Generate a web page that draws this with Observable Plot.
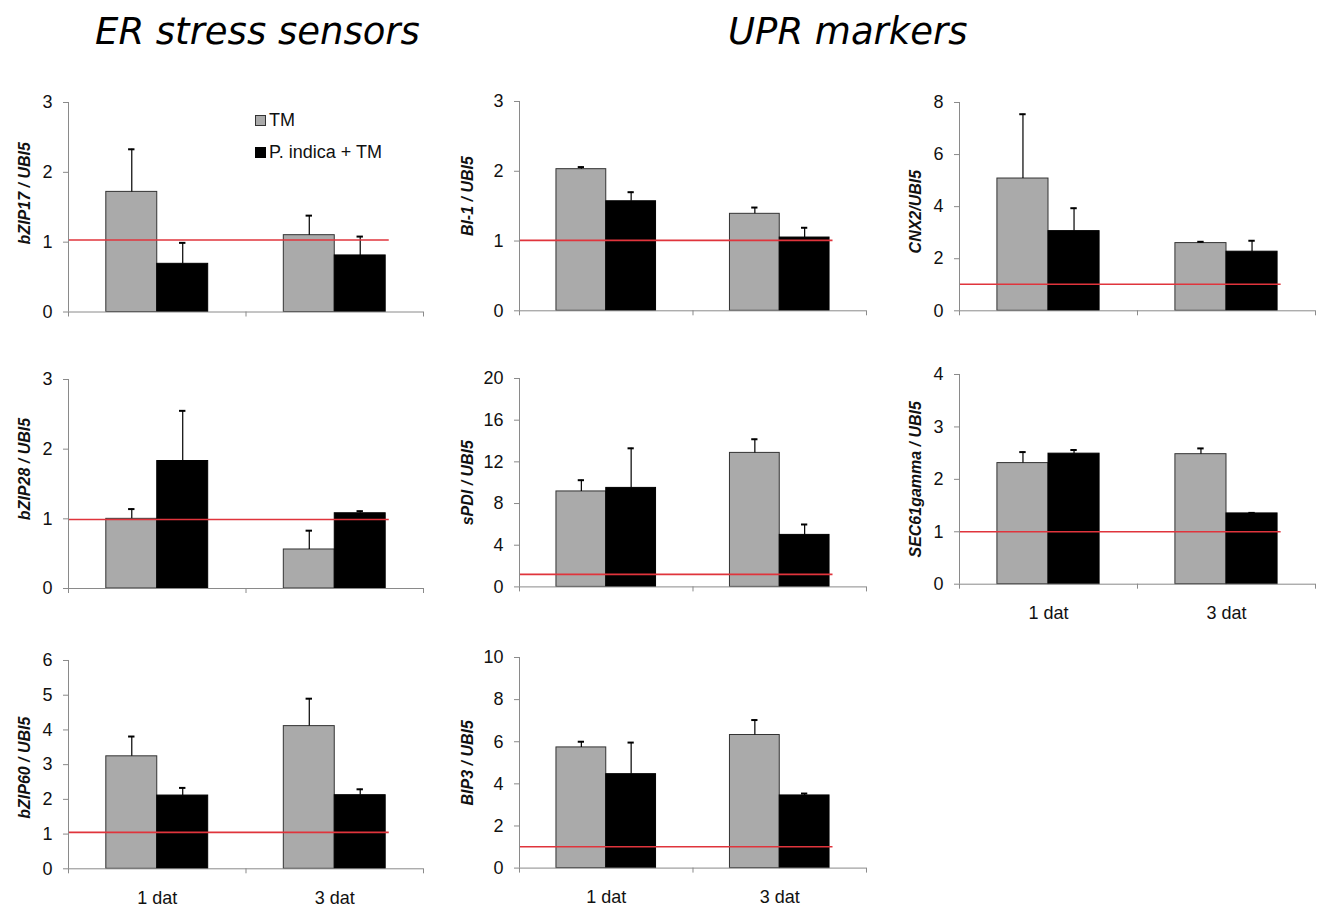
<!DOCTYPE html>
<html><head><meta charset="utf-8">
<script src="https://cdn.jsdelivr.net/npm/d3@7"></script>
<script src="https://cdn.jsdelivr.net/npm/@observablehq/plot@0.6"></script>
<style>
body{margin:0;background:#fff;}
#root{position:relative;width:1326px;height:909px;overflow:hidden;background:#fff;}
.title{position:absolute;font-family:"DejaVu Sans";font-style:italic;font-size:37px;line-height:37px;color:#000;white-space:nowrap;}
.panel{position:absolute;}
.legend{position:absolute;font-family:"Liberation Sans",Arial,sans-serif;font-size:18px;color:#111;}
.legend .row{display:flex;align-items:center;height:20px;margin-bottom:12px;white-space:nowrap;}
.legend .sw{width:11px;height:11px;box-sizing:border-box;margin-right:3px;}
</style></head>
<body><div id="root"></div>
<script>
// ---- data ----
const days = ["1 dat", "3 dat"];
const series = ["TM", "P. indica + TM"];
const genes = ["bZIP17", "BI-1", "CNX2", "bZIP28", "sPDI", "SEC61gamma", "bZIP60", "BIP3"];
const yLabels = ["bZIP17 / UBI5", "BI-1 / UBI5", "CNX2/UBI5", "bZIP28 / UBI5", "sPDI / UBI5", "SEC61gamma / UBI5", "bZIP60 / UBI5", "BIP3 / UBI5"];
const tmMean = [[1.72, 1.10], [2.03, 1.39], [5.08, 2.60], [1.00, 0.56], [9.16, 12.86], [2.31, 2.48], [3.24, 4.11], [5.73, 6.32]];
const tmErr  = [[0.61, 0.28], [0.03, 0.09], [2.47, 0.05], [0.14, 0.27], [1.08, 1.31], [0.21, 0.11], [0.57, 0.79], [0.27, 0.71]];
const piMean = [[0.69, 0.81], [1.57, 1.05], [3.06, 2.27], [1.83, 1.08], [9.50, 4.99], [2.49, 1.35], [2.11, 2.12], [4.46, 3.45]];
const piErr  = [[0.30, 0.27], [0.13, 0.14], [0.88, 0.42], [0.72, 0.03], [3.80, 1.00], [0.07, 0.01], [0.22, 0.17], [1.50, 0.09]];
const refLevel = [1.03, 1.01, 1.02, 0.99, 1.2, 1.0, 1.05, 1.01];
const yMax = [3, 3, 8, 3, 20, 4, 6, 10];
const yTicks = [[0,1,2,3], [0,1,2,3], [0,2,4,6,8], [0,1,2,3], [0,4,8,12,16,20], [0,1,2,3,4], [0,1,2,3,4,5,6], [0,2,4,6,8,10]];
const groupTitles = ["ER stress sensors", "UPR markers"];

// ---- layout / style ----
const cols = [{left: 68, right: 423, labelDx: -44}, {left: 519, right: 866, labelDx: -52}, {left: 959, right: 1315, labelDx: -44}];
const layout = [
  {col: 0, top: 101.5, bottom: 311, showX: false, labelDy: -14},
  {col: 1, top: 100.7, bottom: 310, showX: false, labelDy: -10},
  {col: 2, top: 101.7, bottom: 310, showX: false, labelDy: 5},
  {col: 0, top: 379.3, bottom: 588.3, showX: false, labelDy: -15},
  {col: 1, top: 378.3, bottom: 586.7, showX: false, labelDy: 0},
  {col: 2, top: 374.3, bottom: 584, showX: true, labelDy: 0},
  {col: 0, top: 660, bottom: 868.3, showX: true, labelDy: 3},
  {col: 1, top: 656.7, bottom: 867.3, showX: true, labelDy: 0}
];
const colors = ["#aaaaaa", "#000000"];
const outline = ["#333333", "#000000"];
const axisGray = "#8a8a8a";
const red = "#e0343c";
const bw = 0.287, capW = 0.018;
const mL = 68, mR = 8, mT = 12, mB = 45;

const root = document.getElementById("root");

// titles
[[groupTitles[0], 95], [groupTitles[1], 728]].forEach(([t, x]) => {
  const d = document.createElement("div");
  d.className = "title"; d.textContent = t;
  d.style.left = x + "px"; d.style.top = "13px";
  root.appendChild(d);
});

genes.forEach((g, k) => {
  const L = layout[k], C = cols[L.col];
  const rows = days.flatMap((day, i) => series.map((s, j) => {
    const mean = (j ? piMean : tmMean)[k][i];
    const err = (j ? piErr : tmErr)[k][i];
    const x1 = i + 0.5 + (j - 1) * bw;
    return {day, series: s, j, mean, top: mean + err, x1, x2: x1 + bw, cx: x1 + bw / 2};
  }));
  const fw = C.right - C.left, fh = L.bottom - L.top;
  const marks = [
    Plot.rect(rows, {x1: "x1", x2: "x2", y1: 0, y2: "mean", fill: d => colors[d.j], stroke: d => outline[d.j], strokeWidth: 1}),
    Plot.ruleX(rows, {x: "cx", y1: "mean", y2: "top", stroke: "#000", strokeWidth: 1.2}),
    Plot.ruleY(rows, {y: "top", x1: d => d.cx - capW, x2: d => d.cx + capW, stroke: "#000", strokeWidth: 2}),
    Plot.ruleY([refLevel[k]], {x1: 0, x2: 1.5 + bw + 0.02, stroke: red, strokeWidth: 1.6}),
    Plot.ruleX([0], {stroke: axisGray}),
    Plot.ruleY([0], {stroke: axisGray}),
    Plot.axisY({ticks: yTicks[k], tickSize: 5, tickPadding: 11, tickFormat: d => String(d), stroke: axisGray, fontSize: 18, label: null}),
    Plot.axisX({ticks: [0, 1, 2], tickSize: 5, tickFormat: () => "", stroke: axisGray, label: null}),
    Plot.text([yLabels[k]], {frameAnchor: "left", textAnchor: "middle", lineAnchor: "middle", rotate: -90, dx: C.labelDx, dy: L.labelDy, fontSize: 16, fontWeight: "bold", fontStyle: "italic", fill: "#111"})
  ];
  if (L.showX) marks.push(Plot.axisX({ticks: [0.5, 1.5], tickSize: 0, tickPadding: 22, tickFormat: v => days[Math.floor(v)], fontSize: 18, label: null}));
  const svg = Plot.plot({
    width: mL + fw + mR, height: mT + fh + mB,
    marginLeft: mL, marginRight: mR, marginTop: mT, marginBottom: mB,
    x: {domain: [0, 2]}, y: {domain: [0, yMax[k]]},
    style: {fontFamily: '"Liberation Sans", Arial, sans-serif', fontSize: "18px", color: "#111", background: "transparent", overflow: "visible"},
    marks
  });
  const wrap = document.createElement("div");
  wrap.className = "panel";
  wrap.style.left = (C.left - mL) + "px";
  wrap.style.top = (L.top - mT) + "px";
  wrap.appendChild(svg);
  root.appendChild(wrap);
});

// legend
const lg = document.createElement("div");
lg.className = "legend";
lg.style.left = "255px"; lg.style.top = "110px";
series.forEach((s, j) => {
  const r = document.createElement("div"); r.className = "row";
  const sw = document.createElement("span"); sw.className = "sw";
  sw.style.background = colors[j]; sw.style.border = "1px solid " + outline[j];
  const t = document.createElement("span"); t.textContent = s;
  r.appendChild(sw); r.appendChild(t); lg.appendChild(r);
});
root.appendChild(lg);
</script>
</body></html>
